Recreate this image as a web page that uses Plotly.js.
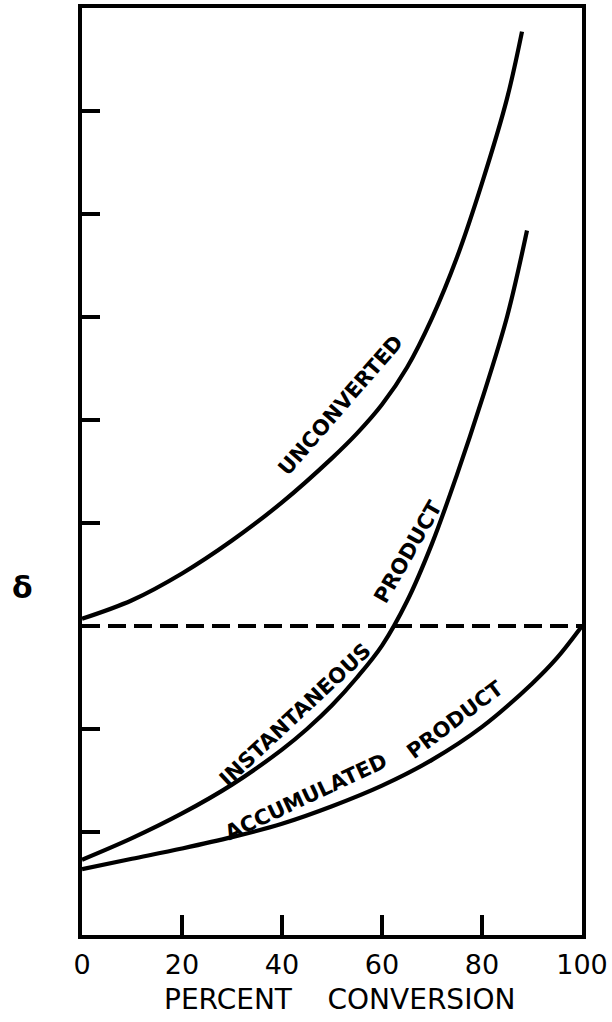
<!DOCTYPE html>
<html>
<head>
<meta charset="utf-8">
<script src="https://cdn.plot.ly/plotly-3.0.1.min.js"></script>
<style>html,body{margin:0;padding:0;background:#fff;}#chart{width:612px;height:1022px;}</style>
</head>
<body>
<div id="chart"></div>
<script>
// Percent conversion (x) and delta (arbitrary units, y)
const percentUnconverted = [0, 10, 20, 30, 40, 50, 55, 60, 65, 70, 75, 80, 85, 88];
const unconverted = [3.07, 3.25, 3.51, 3.83, 4.20, 4.63, 4.87, 5.15, 5.51, 5.99, 6.58, 7.30, 8.12, 8.77];

const percentInstantaneous = [0, 10, 20, 30, 40, 45, 50, 55, 60, 65, 70, 75, 80, 85, 89];
const instantaneousProduct = [0.73, 0.94, 1.18, 1.46, 1.80, 2.00, 2.23, 2.50, 2.81, 3.24, 3.80, 4.47, 5.20, 6.00, 6.84];

const percentAccumulated = [0, 10, 20, 30, 40, 50, 60, 70, 80, 90, 95, 100];
const accumulatedProduct = [0.64, 0.74, 0.84, 0.95, 1.08, 1.25, 1.45, 1.70, 2.02, 2.44, 2.69, 3.00];

const percentFeed = [0, 100];
const feedLevel = [3, 3];

const xTickVals = [0, 20, 40, 60, 80, 100];
const xTickText = ['0', '20', '40', '60', '80', '100'];
const yTickVals = [1, 2, 3, 4, 5, 6, 7, 8];

const curveLabels = ['UNCONVERTED', 'INSTANTANEOUS', 'PRODUCT', 'ACCUMULATED', 'PRODUCT'];
const labelX = [51.6, 42.6, 65.2, 44.8, 74.6];
const labelY = [5.14, 2.14, 3.72, 1.34, 2.09];
const labelAngle = [-49, -43, -60, -25, -37];

const lineStyle = {color: '#000', width: 4.2, shape: 'spline', smoothing: 1};

const traces = [
  {x: percentUnconverted, y: unconverted, mode: 'lines', line: lineStyle, hoverinfo: 'skip'},
  {x: percentInstantaneous, y: instantaneousProduct, mode: 'lines', line: lineStyle, hoverinfo: 'skip'},
  {x: percentAccumulated, y: accumulatedProduct, mode: 'lines', line: lineStyle, hoverinfo: 'skip'},
  {x: percentFeed, y: feedLevel, mode: 'lines', line: {color: '#000', width: 4, dash: '18px,8px'}, hoverinfo: 'skip'}
];

const annotations = curveLabels.map((t, i) => ({
  text: t, x: labelX[i], y: labelY[i], xref: 'x', yref: 'y',
  showarrow: false, textangle: labelAngle[i], xanchor: 'center', yanchor: 'middle',
  font: {family: 'DejaVu Sans', size: 21, color: '#000', weight: 'bold'}
}));
annotations.push({
  text: 'PERCENT&nbsp;&nbsp;&nbsp;&nbsp;CONVERSION', xref: 'paper', yref: 'paper',
  x: 0.514, y: 0, yshift: -64, showarrow: false, xanchor: 'center', yanchor: 'middle',
  font: {family: 'DejaVu Sans', size: 28, color: '#000'}
});
annotations.push({
  text: 'δ', xref: 'paper', yref: 'y', x: 0, xshift: -60, y: 3.37,
  showarrow: false, xanchor: 'center', yanchor: 'middle',
  font: {family: 'DejaVu Sans', size: 30, color: '#000', weight: 'bold'}
});

const layout = {
  width: 612, height: 1022,
  margin: {l: 82, r: 30, t: 8, b: 87},
  paper_bgcolor: '#fff', plot_bgcolor: '#fff',
  showlegend: false,
  xaxis: {
    range: [0, 100], tickvals: xTickVals, ticktext: xTickText,
    ticks: 'inside', ticklen: 20, tickwidth: 4, tickcolor: '#000',
    showline: true, linewidth: 4, linecolor: '#000', mirror: true,
    showgrid: false, zeroline: false, ticklabelstandoff: 3,
    tickfont: {family: 'DejaVu Sans', size: 27, color: '#000'}
  },
  yaxis: {
    range: [0, 9], tickvals: yTickVals, showticklabels: false,
    ticks: 'inside', ticklen: 18, tickwidth: 4, tickcolor: '#000',
    showline: true, linewidth: 4, linecolor: '#000', mirror: true,
    showgrid: false, zeroline: false
  },
  annotations: annotations
};

Plotly.newPlot('chart', traces, layout, {staticPlot: true, displayModeBar: false});
</script>
</body>
</html>
